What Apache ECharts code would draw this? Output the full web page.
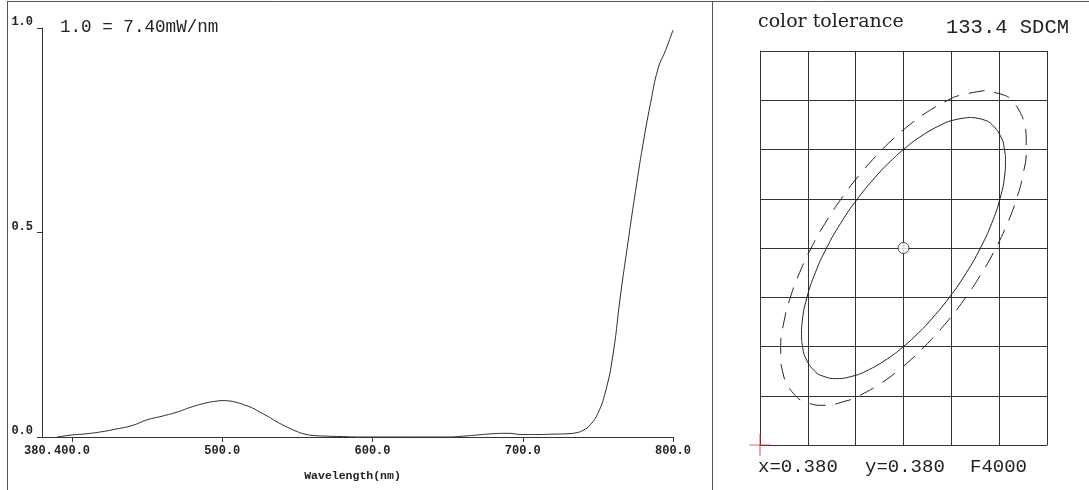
<!DOCTYPE html>
<html>
<head>
<meta charset="utf-8">
<script src="https://cdn.jsdelivr.net/npm/echarts@6.0.0/dist/echarts.min.js"></script>
<style>
html,body{margin:0;padding:0;background:#fff;}
#chart{width:1089px;height:490px;}
</style>
</head>
<body>
<div id="chart"></div>
<script>
// Spectrum data (wavelength nm, relative intensity)
const wavelengths = [390,400,410,420,430,440,450,460,470,480,490,495,500,505,510,515,520,525,530,535,540,545,550,555,560,570,580,590,600,610,620,630,640,650,660,670,680,690,700,710,720,730,735,740,745,750,755,760,765,770,775,780,785,790,795,800];
const intensity = [0,0.005,0.008,0.013,0.02,0.028,0.042,0.051,0.061,0.074,0.084,0.087,0.089,0.088,0.084,0.078,0.071,0.061,0.051,0.040,0.030,0.021,0.013,0.007,0.004,0.002,0.001,0,0,0,0,0,0,0,0.002,0.005,0.008,0.009,0.006,0.006,0.007,0.008,0.010,0.016,0.030,0.058,0.110,0.200,0.345,0.475,0.600,0.715,0.815,0.900,0.945,0.995];
const xTickLabels = [400,500,600,700,800];
const xStartLabel = [380];
const yTickLabels = [0,0.5,1.0];

// Colour tolerance panel (grid units: 6 columns x 8 rows)
const solidX = [4.400,4.058,3.783,3.337,3.000,2.716,2.466,2.039,1.685,1.392,1.157,0.983,0.882,0.868,0.889,0.962,1.144,1.313,1.600,1.942,2.217,2.663,3.000,3.284,3.534,3.961,4.315,4.608,4.843,5.017,5.118,5.132,5.111,5.038,4.856,4.687,4.400];
const solidY = [6.652,6.6,6.5,6.25,6.0,5.75,5.5,5.0,4.5,4.0,3.5,3.0,2.5,2.25,2.0,1.75,1.5,1.4,1.348,1.4,1.5,1.75,2.0,2.25,2.5,3.0,3.5,4.0,4.5,5.0,5.5,5.75,6.0,6.25,6.5,6.6,6.652];
const dashX = [4.696,4.179,3.929,3.478,3.126,2.824,2.557,2.092,1.698,1.359,1.070,0.828,0.636,0.500,0.433,0.435,0.471,0.558,0.743,0.887,1.304,1.821,2.071,2.522,2.874,3.176,3.443,3.908,4.302,4.641,4.930,5.172,5.364,5.500,5.567,5.565,5.529,5.442,5.257,5.113,4.696];
const dashY = [7.195,7.1,7.0,6.75,6.5,6.25,6.0,5.5,5.0,4.5,4.0,3.5,3.0,2.5,2.0,1.75,1.5,1.25,1.0,0.9,0.805,0.9,1.0,1.25,1.5,1.75,2.0,2.5,3.0,3.5,4.0,4.5,5.0,5.5,6.0,6.25,6.5,6.75,7.0,7.1,7.195];
const targetPoint = [3,4];
const originPoint = [0,0];

const texts = {
  scale: '1.0 = 7.40mW/nm',
  xName: 'Wavelength(nm)',
  tol: 'color tolerance',
  sdcm: '133.4 SDCM',
  xc: 'x=0.380',
  yc: 'y=0.380',
  ref: 'F4000'
};

const mono = '"Liberation Mono", "Courier New", monospace';
const zip = (a, b) => a.map((v, i) => [v, b[i]]);

const chart = echarts.init(document.getElementById('chart'), null, {renderer: 'canvas'});
const dark = '#333';
const tickFont = {fontFamily: mono, fontWeight: 'bold', fontSize: 12, color: '#222'};
const option = {
  backgroundColor: '#fff',
  animation: false,
  grid: [
    {left: 42, top: 28, width: 631, height: 409},
    {left: 760, top: 51, width: 287, height: 394}
  ],
  xAxis: [
    {
      gridIndex: 0, type: 'value', min: 380, max: 800, position: 'bottom',
      axisLine: {lineStyle: {color: dark}},
      axisTick: {show: true, length: 5, lineStyle: {color: dark}, customValues: xTickLabels},
      axisLabel: Object.assign({customValues: xTickLabels, margin: 8, formatter: v => v.toFixed(1)}, tickFont),
      splitLine: {show: false},
      name: texts.xName, nameLocation: 'middle', nameGap: 33,
      nameTextStyle: {fontFamily: mono, fontWeight: 'bold', fontSize: 11.5, color: '#222', padding: [0,0,0,-10]}
    },
    {
      gridIndex: 1, type: 'value', min: 0, max: 6, interval: 1,
      axisLine: {show: true, lineStyle: {color: dark}},
      axisTick: {show: false}, axisLabel: {show: false},
      splitLine: {show: true, showMinLine: true, showMaxLine: true, lineStyle: {color: dark, width: 1}}
    },
    {
      gridIndex: 0, type: 'value', min: 380, max: 800, position: 'bottom',
      axisLine: {show: false}, axisTick: {show: false}, splitLine: {show: false},
      axisLabel: Object.assign({customValues: xStartLabel, margin: 8, showMinLabel: true, formatter: v => v.toFixed(0) + '. '}, tickFont)
    }
  ],
  yAxis: [
    {
      gridIndex: 0, type: 'value', min: 0, max: 1, interval: 0.5,
      axisLine: {show: true, lineStyle: {color: dark}},
      axisTick: {show: true, length: 5, lineStyle: {color: dark}},
      axisLabel: Object.assign({customValues: yTickLabels, margin: 9, verticalAlign: 'bottom', showMinLabel: true, showMaxLabel: true, formatter: v => v.toFixed(1)}, tickFont),
      splitLine: {show: false}
    },
    {
      gridIndex: 1, type: 'value', min: 0, max: 8, interval: 1,
      axisLine: {show: true, lineStyle: {color: dark}},
      axisTick: {show: false}, axisLabel: {show: false},
      splitLine: {show: true, showMinLine: true, showMaxLine: true, lineStyle: {color: dark, width: 1}}
    }
  ],
  series: [
    {
      type: 'line', xAxisIndex: 0, yAxisIndex: 0,
      data: zip(wavelengths, intensity),
      showSymbol: false, smooth: 0.5,
      lineStyle: {color: '#2a2a2a', width: 1}
    },
    {
      type: 'line', xAxisIndex: 1, yAxisIndex: 1,
      data: zip(solidX, solidY),
      showSymbol: false, smooth: 0.5,
      lineStyle: {color: '#222', width: 1}
    },
    {
      type: 'line', xAxisIndex: 1, yAxisIndex: 1,
      data: zip(dashX, dashY),
      showSymbol: false, smooth: 0.5,
      lineStyle: {color: '#222', width: 1, type: [16, 10]}
    },
    {
      type: 'scatter', xAxisIndex: 1, yAxisIndex: 1,
      data: [targetPoint], symbol: 'circle', symbolSize: 11,
      itemStyle: {color: '#fff', borderColor: '#222', borderWidth: 1}
    },
    {
      type: 'scatter', xAxisIndex: 1, yAxisIndex: 1,
      data: [originPoint],
      symbol: 'path://M0,9.5h20v1h-20z M9.5,0h1v20h-1z', symbolSize: 22,
      itemStyle: {color: '#e53b3b'}, z: 5
    }
  ],
  graphic: [
    {type: 'line', shape: {x1: 7, y1: 1.5, x2: 1089, y2: 1.5}, style: {stroke: '#555', lineWidth: 1}, silent: true},
    {type: 'line', shape: {x1: 7.5, y1: 1, x2: 7.5, y2: 490}, style: {stroke: '#555', lineWidth: 1}, silent: true},
    {type: 'line', shape: {x1: 712.5, y1: 1, x2: 712.5, y2: 490}, style: {stroke: '#555', lineWidth: 1}, silent: true},
    {type: 'text', left: 60, top: 18, style: {text: texts.scale, font: '17.6px ' + mono, fill: '#222'}},
    {type: 'text', left: 758, top: 13, style: {text: texts.tol, font: '19px "DejaVu Serif", serif', fill: '#222'}},
    {type: 'text', left: 946, top: 17, style: {text: texts.sdcm, font: '20.5px ' + mono, fill: '#222'}},
    {type: 'text', left: 758, top: 457, style: {text: texts.xc, font: '19px ' + mono, fill: '#222'}},
    {type: 'text', left: 865, top: 457, style: {text: texts.yc, font: '19px ' + mono, fill: '#222'}},
    {type: 'text', left: 970, top: 457, style: {text: texts.ref, font: '19px ' + mono, fill: '#222'}}
  ]
};
chart.setOption(option);
</script>
</body>
</html>
